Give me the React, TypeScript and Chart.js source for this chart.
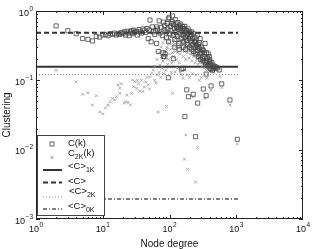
import React, { useEffect, useRef } from 'react';
import { Chart, registerables } from 'chart.js';

Chart.register(...registerables);

// C(k): [degree, clustering]
const cK: [number, number][] = [
  [2, 0.61], [3, 0.52], [4, 0.47], [5, 0.40], [6, 0.39], [7, 0.37], [8, 0.43], [9, 0.42], [10, 0.45],
  [11, 0.46], [12, 0.44], [13, 0.47], [14, 0.46], [15, 0.48], [16, 0.45], [17, 0.47], [18, 0.46], [19, 0.49],
  [20, 0.47], [21, 0.50], [22, 0.45], [23, 0.51], [24, 0.48], [25, 0.44], [26, 0.50], [27, 0.52], [28, 0.47],
  [29, 0.53], [30, 0.49], [32, 0.51], [33, 0.45], [35, 0.54], [36, 0.50], [38, 0.48], [40, 0.55], [42, 0.52],
  [44, 0.49], [46, 0.56], [48, 0.40], [50, 0.53], [51, 0.74], [53, 0.36], [55, 0.59], [57, 0.50], [60, 0.46],
  [62, 0.52], [64, 0.59], [64, 0.34], [66, 0.55], [68, 0.26], [70, 0.72], [72, 0.48], [75, 0.58], [78, 0.44],
  [80, 0.25], [81, 0.69], [81, 0.22], [83, 0.53], [85, 0.62], [86, 0.24], [88, 0.50], [90, 0.41], [92, 0.66],
  [95, 0.55], [96, 0.77], [97, 0.36], [99, 0.81], [100, 0.47], [103, 0.60], [105, 0.52], [108, 0.66], [110, 0.70],
  [111, 0.85], [113, 0.45], [114, 0.205], [115, 0.63], [118, 0.56], [120, 0.39], [120, 0.30], [122, 0.75],
  [125, 0.50], [128, 0.60], [130, 0.43], [130, 0.58], [133, 0.68], [135, 0.55], [138, 0.34], [140, 0.62],
  [140, 0.28], [143, 0.48], [145, 0.65], [146, 0.57], [150, 0.40], [153, 0.52], [156, 0.60], [160, 0.45],
  [160, 0.30], [161, 0.56], [163, 0.36], [166, 0.55], [170, 0.48], [170, 0.60], [173, 0.42], [175, 0.28],
  [176, 0.52], [180, 0.38], [180, 0.52], [184, 0.45], [188, 0.33], [190, 0.55], [192, 0.48], [196, 0.40],
  [200, 0.30], [200, 0.50], [205, 0.43], [210, 0.36], [210, 0.45], [215, 0.28], [215, 0.50], [220, 0.40],
  [225, 0.33], [228, 0.47], [230, 0.26], [236, 0.36], [240, 0.42], [242, 0.30], [245, 0.35], [248, 0.24],
  [250, 0.38], [255, 0.32], [260, 0.45], [262, 0.27], [265, 0.30], [270, 0.22], [270, 0.33], [278, 0.29],
  [280, 0.35], [285, 0.24], [288, 0.40], [293, 0.20], [300, 0.25], [300, 0.30], [310, 0.21], [310, 0.28],
  [320, 0.19], [320, 0.27], [330, 0.22], [335, 0.25], [340, 0.18], [341, 0.34], [350, 0.17], [360, 0.25],
  [362, 0.19], [370, 0.21], [375, 0.16], [380, 0.24], [390, 0.165], [395, 0.22], [400, 0.20], [405, 0.15],
  [410, 0.17], [420, 0.145], [430, 0.18], [440, 0.14], [450, 0.165], [460, 0.15], [480, 0.157], [500, 0.155],
  [520, 0.15],
  [85, 0.22], [96, 0.109], [152, 0.146], [160, 0.149], [181, 0.073], [192, 0.058], [227, 0.063], [264, 0.047],
  [321, 0.075], [354, 0.123], [354, 0.06], [419, 0.083], [606, 0.089], [805, 0.052], [555, 0.141], [403, 0.186],
  [170, 0.030], [246, 0.0154], [1037, 0.0141],
];

// C_2K(k): [degree, clustering]
const c2K: [number, number][] = [
  [2, 0.14], [4, 0.095], [5, 0.063], [6, 0.066], [7, 0.044], [8, 0.06], [9, 0.035], [10, 0.033], [11, 0.04],
  [12, 0.044], [13, 0.049], [14, 0.055], [15, 0.052], [16, 0.058], [17, 0.086], [18, 0.077], [18, 0.065],
  [19, 0.089], [21, 0.047], [22, 0.049], [23, 0.061], [24, 0.048], [26, 0.044], [27, 0.065], [28, 0.101],
  [29, 0.081], [30, 0.096], [32, 0.077], [33, 0.10], [34, 0.09], [36, 0.07], [38, 0.10], [40, 0.069],
  [42, 0.08], [44, 0.095], [46, 0.11], [48, 0.086], [50, 0.075], [51, 0.113], [54, 0.126], [57, 0.141],
  [60, 0.10], [60, 0.16], [63, 0.092], [65, 0.2], [66, 0.12], [68, 0.035], [70, 0.13], [70, 0.25], [72, 0.167],
  [74, 0.11], [75, 0.3], [76, 0.22], [78, 0.15], [80, 0.19], [80, 0.35], [82, 0.125], [85, 0.26], [85, 0.4],
  [88, 0.14], [90, 0.042], [90, 0.28], [92, 0.30], [94, 0.17], [95, 0.45], [96, 0.2], [98, 0.34], [100, 0.24],
  [100, 0.38], [104, 0.28], [105, 0.42], [106, 0.13], [108, 0.177], [110, 0.45], [110, 0.25], [111, 0.065],
  [112, 0.32], [115, 0.22], [115, 0.35], [118, 0.38], [120, 0.46], [121, 0.133], [122, 0.26], [125, 0.30],
  [125, 0.42], [128, 0.20], [128, 0.33], [130, 0.35], [130, 0.15], [133, 0.25], [135, 0.37], [136, 0.42],
  [138, 0.29], [140, 0.18], [140, 0.48], [142, 0.4], [143, 0.33], [145, 0.13], [146, 0.24], [148, 0.3],
  [150, 0.38], [152, 0.12], [155, 0.28], [155, 0.43], [158, 0.32], [160, 0.107], [160, 0.40], [162, 0.22],
  [162, 0.34], [165, 0.35], [167, 0.0073], [168, 0.26], [168, 0.38], [170, 0.44], [170, 0.14], [172, 0.30],
  [175, 0.0163], [175, 0.32], [176, 0.20], [180, 0.33], [182, 0.4], [185, 0.25], [185, 0.12], [187, 0.0052],
  [188, 0.27], [190, 0.29], [190, 0.38], [195, 0.21], [195, 0.33], [200, 0.31], [200, 0.36], [200, 0.11],
  [205, 0.24], [205, 0.3], [210, 0.27], [212, 0.35], [215, 0.19], [218, 0.24], [220, 0.29], [220, 0.125],
  [225, 0.28], [227, 0.058], [228, 0.22], [230, 0.33], [232, 0.24], [235, 0.26], [240, 0.27], [242, 0.18],
  [246, 0.0034], [250, 0.23], [250, 0.30], [250, 0.12], [255, 0.26], [258, 0.20], [262, 0.22], [264, 0.0107],
  [266, 0.17], [270, 0.27], [275, 0.21], [280, 0.10], [280, 0.23], [285, 0.18], [290, 0.25], [295, 0.2],
  [300, 0.11], [300, 0.2], [305, 0.16], [310, 0.23], [315, 0.185], [320, 0.22], [330, 0.15], [330, 0.19],
  [340, 0.055], [345, 0.17], [350, 0.2], [360, 0.107], [360, 0.14], [360, 0.17], [380, 0.155], [380, 0.18],
  [390, 0.16], [400, 0.135], [415, 0.072], [420, 0.16], [430, 0.15], [440, 0.14], [450, 0.155], [460, 0.13],
  [470, 0.16], [480, 0.145], [500, 0.14], [572, 0.113], [606, 0.079], [805, 0.044], [1037, 0.0121],
];

// Average clustering reference lines
const avgC = 0.486;
const avgC1K = 0.157;
const avgC2K = 0.121;
const avgC0K = 0.00194;
const lineDegrees = [1, 1060];

// Tick values and their exponent labels (drawn as 10^exp)
const xTicks = [1, 10, 100, 1000, 10000];
const xTickExps = ['0', '1', '2', '3', '4'];
const yTicks = [0.001, 0.01, 0.1, 1];
const yTickExps = ['−3', '−2', '−1', '0'];

const FONT = '"Liberation Sans", Arial, Helvetica, sans-serif';

const hline = (v: number) => lineDegrees.map((k) => ({ x: k, y: v }));

const framePlugin = {
  id: 'frameTicks',
  afterDatasetsDraw(chart: any) {
    const { ctx, chartArea } = chart;
    const { left, right, top, bottom } = chartArea;
    const xs = chart.scales.x;
    const ys = chart.scales.y;
    ctx.save();
    ctx.strokeStyle = '#222';
    ctx.lineWidth = 1;
    ctx.beginPath();
    for (let e = 0; e < 4; e++) {
      for (let m = 1; m <= 9; m++) {
        const v = m * Math.pow(10, e);
        const p = Math.round(xs.getPixelForValue(v)) + 0.5;
        const len = m === 1 ? 4 : 2;
        ctx.moveTo(p, bottom);
        ctx.lineTo(p, bottom - len);
        ctx.moveTo(p, top);
        ctx.lineTo(p, top + len);
      }
    }
    for (let e = -3; e < 0; e++) {
      for (let m = 1; m <= 9; m++) {
        const v = m * Math.pow(10, e);
        const p = Math.round(ys.getPixelForValue(v)) + 0.5;
        const len = m === 1 ? 4 : 2;
        ctx.moveTo(left, p);
        ctx.lineTo(left + len, p);
        ctx.moveTo(right, p);
        ctx.lineTo(right - len, p);
      }
    }
    ctx.stroke();
    ctx.strokeRect(Math.round(left) + 0.5, Math.round(top) + 0.5, Math.round(right - left) - 1, Math.round(bottom - top) - 1);

    // tick labels 10^n
    const base = `9px ${FONT}`;
    const sup = `6.5px ${FONT}`;
    ctx.fillStyle = '#111';
    ctx.textBaseline = 'alphabetic';
    ctx.textAlign = 'left';
    xTicks.forEach((v, i) => {
      const p = xs.getPixelForValue(v);
      ctx.font = base;
      const w1 = ctx.measureText('10').width;
      ctx.font = sup;
      const w2 = ctx.measureText(xTickExps[i]).width;
      const x0 = p - (w1 + w2 + 0.5) / 2;
      ctx.font = base;
      ctx.fillText('10', x0, bottom + 13);
      ctx.font = sup;
      ctx.fillText(xTickExps[i], x0 + w1 + 0.5, bottom + 8);
    });
    yTicks.forEach((v, i) => {
      const p = ys.getPixelForValue(v);
      ctx.font = sup;
      const w2 = ctx.measureText(yTickExps[i]).width;
      ctx.font = base;
      const w1 = ctx.measureText('10').width;
      const xe = left - 3;
      ctx.font = base;
      ctx.fillText('10', xe - w2 - 0.5 - w1, p + 4.5);
      ctx.font = sup;
      ctx.fillText(yTickExps[i], xe - w2, p - 0.5);
    });
    ctx.restore();
  },
  afterDraw(chart: any) {
    const { ctx } = chart;
    ctx.save();
    const bx = 37.5, by = 135.5, bw = 67, bh = 80;
    ctx.fillStyle = '#fff';
    ctx.fillRect(bx, by, bw, bh);
    ctx.strokeStyle = '#444';
    ctx.lineWidth = 1;
    ctx.strokeRect(bx, by, bw, bh);

    const sx0 = 43, sx1 = 62, mx = 52, tx = 68;
    const main = `9.5px ${FONT}`;
    const sub = `7px ${FONT}`;
    ctx.fillStyle = '#111';
    ctx.textBaseline = 'middle';
    ctx.textAlign = 'left';
    const txt = (parts: [string, boolean][], x: number, y: number) => {
      let cx = x;
      for (const [s, isSub] of parts) {
        ctx.font = isSub ? sub : main;
        ctx.fillText(s, cx, isSub ? y + 4 : y);
        cx += ctx.measureText(s).width;
      }
    };
    // C(k) square
    ctx.strokeStyle = '#444';
    ctx.lineWidth = 0.8;
    ctx.strokeRect(mx - 2, 142, 4, 4);
    txt([['C(k)', false]], tx, 143);
    // C2K(k) cross
    ctx.strokeStyle = '#888';
    ctx.beginPath();
    ctx.moveTo(mx - 1.5, 156); ctx.lineTo(mx + 1.5, 159);
    ctx.moveTo(mx + 1.5, 156); ctx.lineTo(mx - 1.5, 159);
    ctx.stroke();
    txt([['C', false], ['2K', true], ['(k)', false]], tx, 153);
    // lines
    const sample = (y: number, w: number, color: string, dash: number[]) => {
      ctx.strokeStyle = color;
      ctx.lineWidth = w;
      ctx.setLineDash(dash);
      ctx.beginPath();
      ctx.moveTo(sx0, y);
      ctx.lineTo(sx1, y);
      ctx.stroke();
      ctx.setLineDash([]);
    };
    sample(170, 2, '#333', []);
    txt([['<C>', false], ['1K', true]], tx, 166.5);
    sample(182.5, 2, '#333', [5, 3]);
    txt([['<C>', false]], tx, 181);
    sample(197, 1, '#888', [1, 2]);
    txt([['<C>', false], ['2K', true]], tx + 1, 191);
    sample(209, 1.5, '#555', [4, 2, 1, 2]);
    txt([['<C>', false], ['0K', true]], tx, 206);
    ctx.restore();
  },
};

export default function App() {
  const ref = useRef<HTMLCanvasElement | null>(null);
  useEffect(() => {
    if (!ref.current) return;
    const chart = new Chart(ref.current, {
      type: 'scatter',
      data: {
        datasets: [
          {
            type: 'line',
            label: '<C>_1K',
            data: hline(avgC1K),
            borderColor: '#333',
            borderWidth: 2,
            pointRadius: 0,
            order: 5,
          } as any,
          {
            type: 'line',
            label: '<C>',
            data: hline(avgC),
            borderColor: '#333',
            borderWidth: 2,
            borderDash: [5, 3],
            pointRadius: 0,
            order: 5,
          } as any,
          {
            type: 'line',
            label: '<C>_2K',
            data: hline(avgC2K),
            borderColor: '#888',
            borderWidth: 1,
            borderDash: [1, 2],
            pointRadius: 0,
            order: 5,
          } as any,
          {
            type: 'line',
            label: '<C>_0K',
            data: hline(avgC0K),
            borderColor: '#555',
            borderWidth: 1.5,
            borderDash: [4, 2, 1, 2],
            pointRadius: 0,
            order: 5,
          } as any,
          {
            label: 'C_2K(k)',
            data: c2K.map(([x, y]) => ({ x, y })),
            pointStyle: 'crossRot',
            pointRadius: 2,
            borderColor: '#999',
            borderWidth: 0.8,
            backgroundColor: 'transparent',
            order: 3,
          },
          {
            label: 'C(k)',
            data: cK.map(([x, y]) => ({ x, y })),
            pointStyle: 'rect',
            pointRadius: 2.9,
            borderColor: '#444',
            borderWidth: 0.8,
            backgroundColor: 'transparent',
            order: 2,
          },
        ],
      },
      options: {
        responsive: false,
        animation: false,
        devicePixelRatio: 1,
        layout: { padding: { top: 11, right: 9, left: 0, bottom: 0 } },
        plugins: { legend: { display: false }, tooltip: { enabled: false } },
        scales: {
          x: {
            type: 'logarithmic',
            min: 1,
            max: 10000,
            afterFit: (s: any) => {
              s.height = 30;
            },
            grid: { display: false },
            border: { display: false },
            ticks: { display: false },
            title: {
              display: true,
              text: 'Node degree',
              color: '#111',
              font: { family: FONT, size: 10, lineHeight: 1 },
              padding: { top: 0, bottom: 0 },
            },
          },
          y: {
            type: 'logarithmic',
            min: 0.001,
            max: 1,
            afterFit: (s: any) => {
              s.width = 36;
            },
            grid: { display: false },
            border: { display: false },
            ticks: { display: false },
            title: {
              display: true,
              text: 'Clustering',
              color: '#111',
              font: { family: FONT, size: 10, lineHeight: 1 },
              padding: { top: 2, bottom: 0 },
            },
          },
        },
      },
      plugins: [framePlugin],
    });
    return () => chart.destroy();
  }, []);
  return (
    <div style={{ position: 'absolute', left: 0, top: 0, width: 312, height: 249, background: '#fff' }}>
      <canvas ref={ref} width={312} height={249} />
    </div>
  );
}
